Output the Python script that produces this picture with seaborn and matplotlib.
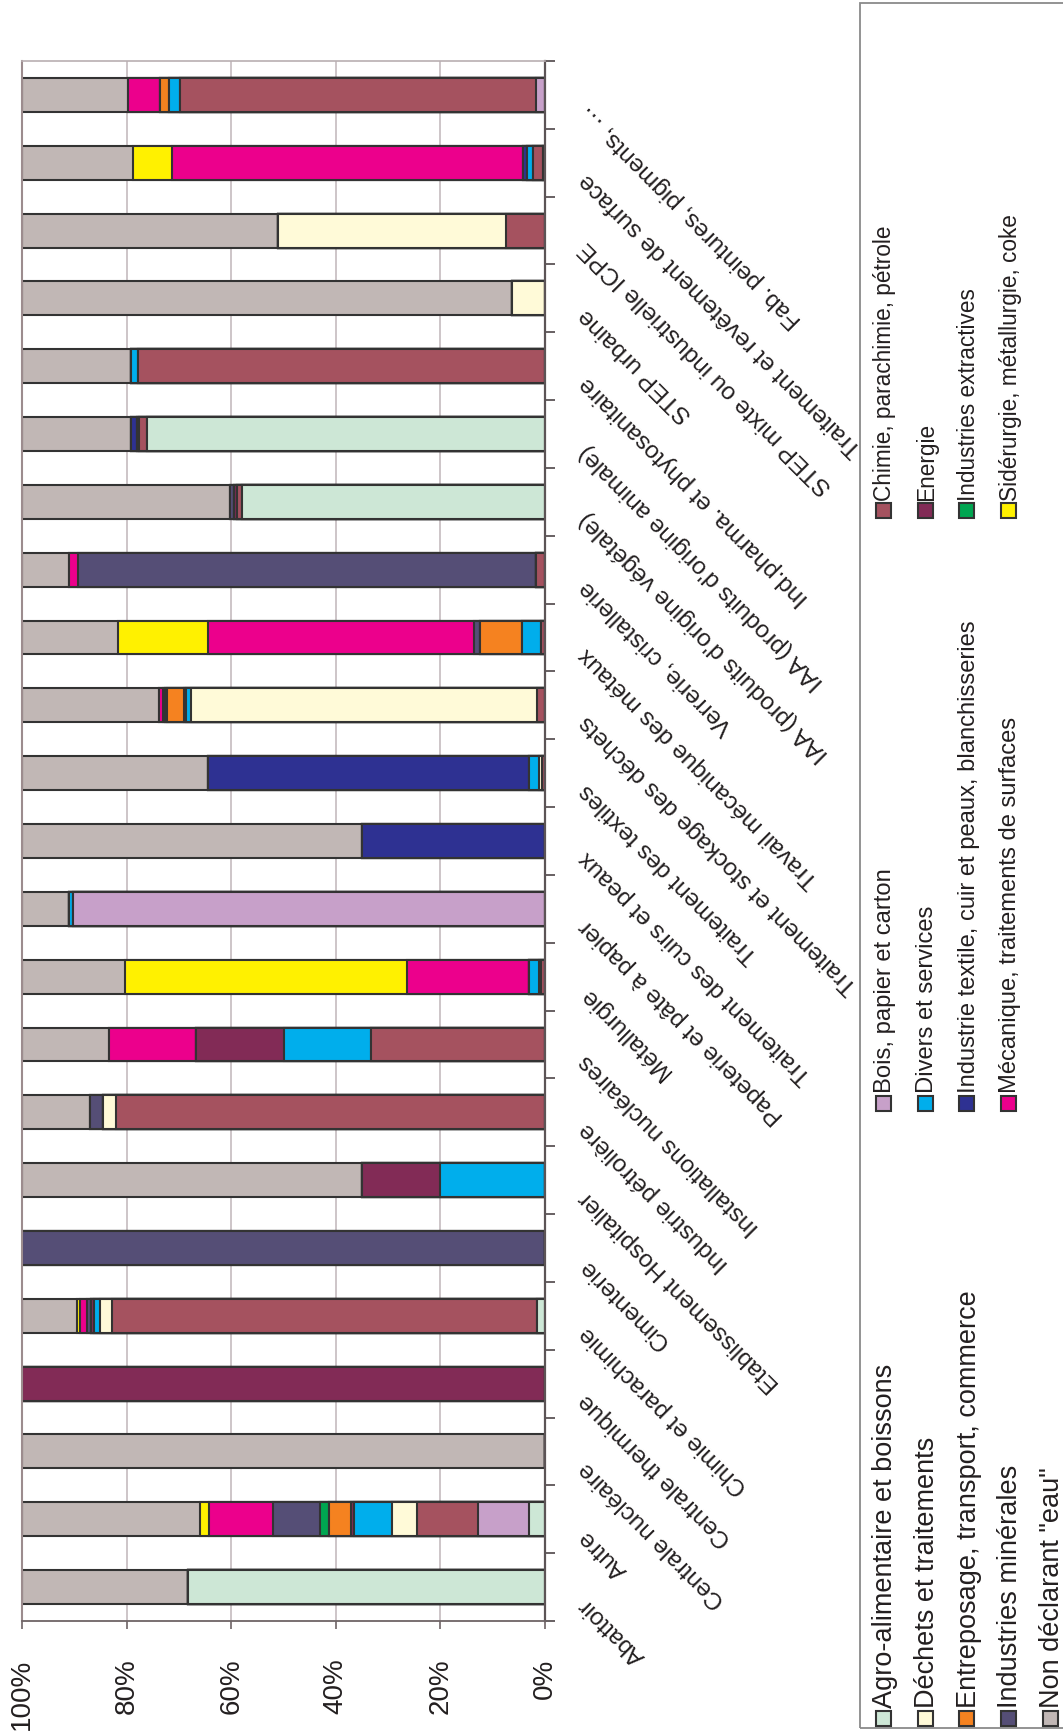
import matplotlib
matplotlib.use("Agg")
import matplotlib.pyplot as plt
import matplotlib.transforms as mtransforms
from matplotlib.patches import Rectangle
import numpy as np
import pandas as pd
import seaborn as sns

# Activity categories (bottom to top)
categories = [
    "Abattoir",
    "Autre",
    "Centrale nucléaire",
    "Centrale thermique",
    "Chimie et parachimie",
    "Cimenterie",
    "Etablissement Hospitalier",
    "Industrie pétrolière",
    "Installations nucléaires",
    "Métallurgie",
    "Papeterie et pâte à papier",
    "Traitement des cuirs et peaux",
    "Traitement des textiles",
    "Traitement et stockage des déchets",
    "Travail mécanique des métaux",
    "Verrerie, cristallerie",
    "IAA (produits d'origine végétale)",
    "IAA (produits d'origine animale)",
    "Ind.pharma. et phytosanitaire",
    "STEP urbaine",
    "STEP mixte ou industrielle ICPE",
    "Traitement et revêtement de surface",
    "Fab. peintures, pigments, …",
]

# Sector shares (%) for each category, in stacking order
agro      = [68.3, 3.0, 0, 0, 1.5, 0, 0, 0, 0, 0, 0, 0, 0, 0, 0, 0, 57.9, 76.1, 0, 0, 0, 0.4, 0]
bois      = [0, 9.9, 0, 0, 0, 0, 0, 0, 0, 0, 90.2, 0, 0, 0, 0, 0, 0, 0, 0, 0, 0, 0, 1.7]
chimie    = [0, 11.5, 0, 0, 81.2, 0, 0, 82.0, 33.3, 0.7, 0, 0, 0.5, 1.5, 0.8, 1.7, 0.9, 1.5, 77.8, 0, 7.5, 1.8, 68.1]
dechets   = [0, 4.8, 0, 0, 2.3, 0, 0, 2.5, 0, 0.5, 0, 0, 0.6, 66.2, 0, 0, 0, 0, 0, 6.4, 43.6, 0, 0]
divers    = [0, 7.3, 0, 0, 1.3, 0, 20.0, 0, 16.7, 1.9, 0.9, 0, 1.9, 1.0, 3.6, 0, 0, 0.5, 1.4, 0, 0, 1.3, 2.0]
energie   = [0, 0.6, 0, 100, 0.6, 0, 15.0, 0, 16.7, 0, 0, 0, 0, 0.3, 0, 0, 0.7, 0, 0, 0, 0, 0, 0]
entrepo   = [0, 4.2, 0, 0, 0, 0, 0, 0, 0, 0, 0, 0, 0, 3.2, 8.0, 0, 0, 0, 0, 0, 0, 0, 1.9]
textile   = [0, 0, 0, 0, 0, 0, 0, 0, 0, 0, 0, 34.9, 61.4, 0.5, 0, 0, 0, 1.1, 0, 0, 0, 0.8, 0]
extract   = [0, 1.7, 0, 0, 0, 0, 0, 0, 0, 0, 0, 0, 0, 0, 0, 0, 0, 0, 0, 0, 0, 0, 0]
minerales = [0, 9.1, 0, 0, 0.7, 100, 0, 2.5, 0, 0, 0, 0, 0, 0.4, 1.2, 87.6, 0.8, 0, 0, 0, 0, 0, 0]
meca      = [0, 12.1, 0, 0, 1.3, 0, 0, 0, 16.7, 23.3, 0, 0, 0, 0.7, 50.8, 1.8, 0, 0, 0, 0, 0, 67.0, 6.1]
sider     = [0, 1.7, 0, 0, 0.5, 0, 0, 0, 0, 54.0, 0, 0, 0, 0, 17.2, 0, 0, 0, 0, 0, 0, 7.4, 0]
non_decl  = [31.7, 34.1, 100, 0, 10.6, 0, 65.0, 13.0, 16.6, 19.6, 8.9, 65.1, 35.6, 26.2, 18.4, 8.9, 39.7, 20.8, 20.8, 93.6, 48.9, 21.3, 20.2]

series_names = [
    "Agro-alimentaire et boissons",
    "Bois, papier et carton",
    "Chimie, parachimie, pétrole",
    "Déchets et traitements",
    "Divers et services",
    "Energie",
    "Entreposage, transport, commerce",
    "Industrie textile, cuir et peaux, blanchisseries",
    "Industries extractives",
    "Industries minérales",
    "Mécanique, traitements de surfaces",
    "Sidérurgie, métallurgie, coke",
    "Non déclarant \"eau\"",
]
series_colors = [
    "#CDE7D6", "#C7A0C9", "#A5525F", "#FFFAD8", "#00AEEC", "#822B56",
    "#F58220", "#2E3192", "#00A651", "#554E76", "#EC008C", "#FFF100",
    "#C1B7B5",
]
pct_ticks = [0, 20, 40, 60, 80, 100]

series = [agro, bois, chimie, dechets, divers, energie, entrepo, textile,
          extract, minerales, meca, sider, non_decl]

sns.set_theme(style="white")
plt.rcParams["font.family"] = ["Liberation Sans", "DejaVu Sans"]
text_color = "#231F20"
edge = "#333333"

W, H = 1063, 1735
fig = plt.figure(figsize=(W / 100, H / 100), dpi=100)


def fx(px):
    return px / W


def fy(py):
    return 1 - py / H


left, right, top, bottom = 22, 545, 61, 1621
ax = fig.add_axes([fx(left), fy(bottom), (right - left) / W, (bottom - top) / H])
ax.set_axisbelow(True)

order = categories[::-1]
cum = np.cumsum(np.array(series, dtype=float), axis=0)

# Stacked bars: draw cumulative totals from the outermost layer inwards
for k in range(len(series) - 1, -1, -1):
    df = pd.DataFrame({"cat": categories, "val": cum[k]})
    sns.barplot(data=df, x="val", y="cat", order=order, color=series_colors[k],
                saturation=1, width=0.5, errorbar=None, edgecolor=edge,
                linewidth=1.5, orient="y", ax=ax)

ax.set_xlim(100, 0)
ax.set_ylim(len(order) - 0.5, -0.5)
ax.set_xlabel("")
ax.set_ylabel("")

# Value axis (bottom)
ax.set_xticks(pct_ticks)
ax.set_xticklabels([f"{v}%" for v in pct_ticks])
ax.tick_params(axis="x", which="major", bottom=True, direction="out", length=6,
               width=1.2, color="#6E6466", pad=21, labelsize=20,
               labelcolor=text_color)
for lab in ax.get_xticklabels():
    lab.set_rotation(90)
    lab.set_rotation_mode("anchor")
    lab.set_ha("right")
    lab.set_va("center")

ax.xaxis.grid(True, color="#C9C0C4", linewidth=1.3)
ax.yaxis.grid(False)

# Category axis (right): ticks between the bars
ax.set_yticks([])
ax.set_yticks(np.arange(-0.5, len(order), 1.0), minor=True)
ax.yaxis.set_ticks_position("right")
ax.tick_params(axis="y", which="minor", right=True, left=False, direction="out",
               length=7, width=1.3, color="#5C5456")

for name, sp in ax.spines.items():
    sp.set_visible(True)
ax.spines["left"].set_color("#9C8C8E")
ax.spines["left"].set_linewidth(1.5)
ax.spines["top"].set_color("#B9AFB2")
ax.spines["top"].set_linewidth(1.2)
ax.spines["right"].set_color("#5C5456")
ax.spines["right"].set_linewidth(1.6)
ax.spines["bottom"].set_color("#6E6466")
ax.spines["bottom"].set_linewidth(1.3)

# Category labels, slanted
label_trans = mtransforms.offset_copy(ax.get_yaxis_transform(), fig=fig,
                                      x=38, y=-14, units="dots")
for i, name in enumerate(order):
    ax.text(1.0, i, name, transform=label_trans, rotation=135,
            rotation_mode="anchor", ha="right", va="center", fontsize=17.5,
            color=text_color, clip_on=False)

# Legend box
fig.add_artist(Rectangle((fx(860), fy(1728)), (W - 860 + 5) / W, (1728 - 3) / H,
                         transform=fig.transFigure, fill=False,
                         edgecolor="#8A8A8A", linewidth=1.3))
group_y = [1718, 1103, 511]
group_size = [19.5, 17.1, 16.3]
sq = 15
for s, (name, col) in enumerate(zip(series_names, series_colors)):
    g, r = s % 3, s // 3
    x = 883.5 + 41.75 * r
    ysq = group_y[g]
    fig.add_artist(Rectangle((fx(x - sq / 2), fy(ysq + sq / 2)), sq / W, sq / H,
                             transform=fig.transFigure, facecolor=col,
                             edgecolor=edge, linewidth=1.5))
    fig.text(fx(x + 1.5), fy(ysq - sq / 2 - 3), name, rotation=90,
             rotation_mode="anchor", ha="left", va="center",
             fontsize=group_size[g], color=text_color)

fig.savefig("out.png", dpi=100)
